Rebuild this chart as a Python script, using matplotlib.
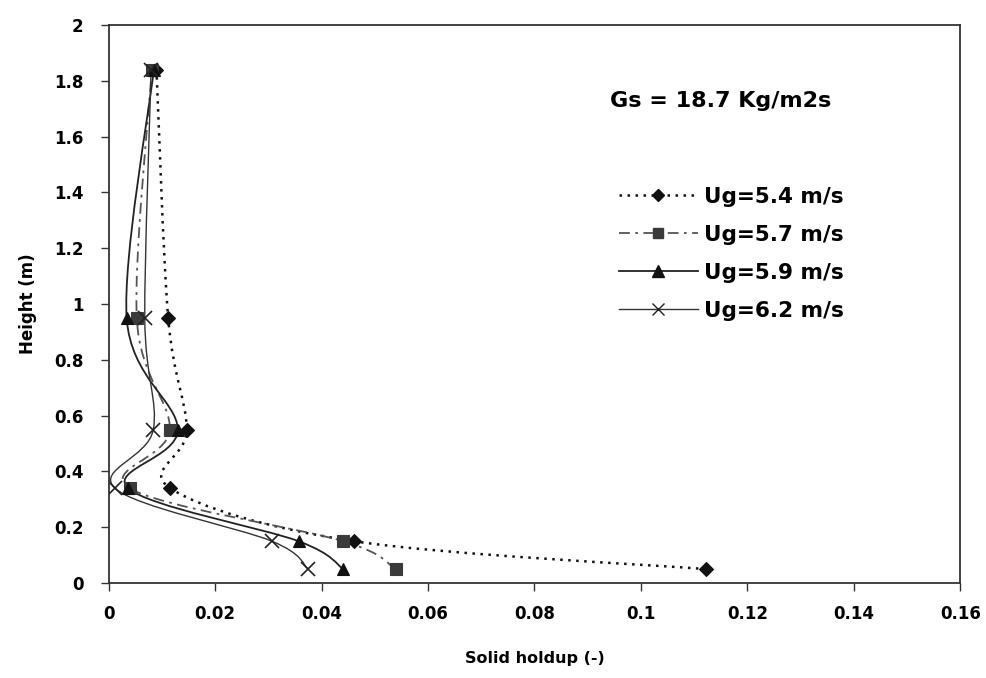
import numpy as np
import matplotlib
matplotlib.use("Agg")
import matplotlib.pyplot as plt
from matplotlib.path import Path
from matplotlib.patches import PathPatch
from matplotlib.lines import Line2D

# measured axial profile of solid holdup
height = [0.05, 0.15, 0.34, 0.55, 0.95, 1.84]
holdup_54 = [0.1123, 0.0461, 0.0116, 0.0147, 0.0112, 0.0090]
holdup_57 = [0.0539, 0.0441, 0.0040, 0.0115, 0.0053, 0.0081]
holdup_59 = [0.0441, 0.0357, 0.0037, 0.0130, 0.0034, 0.0085]
holdup_62 = [0.0375, 0.0307, 0.0012, 0.0084, 0.0068, 0.0080]
labels = ["Ug=5.4 m/s", "Ug=5.7 m/s", "Ug=5.9 m/s", "Ug=6.2 m/s"]

xticks = [0, 0.02, 0.04, 0.06, 0.08, 0.1, 0.12, 0.14, 0.16]
xtick_labels = ["0", "0.02", "0.04", "0.06", "0.08", "0.1", "0.12", "0.14", "0.16"]
yticks = [0, 0.2, 0.4, 0.6, 0.8, 1, 1.2, 1.4, 1.6, 1.8, 2]
ytick_labels = ["0", "0.2", "0.4", "0.6", "0.8", "1", "1.2", "1.4", "1.6", "1.8", "2"]

plt.rcParams["font.family"] = ["DejaVu Sans"]
plt.rcParams["font.weight"] = "bold"


def smooth_path(xs, ys):
    # bezier curve through the points, like a spreadsheet "smoothed line"
    pts = np.column_stack([xs, ys]).astype(float)
    n = len(pts)
    verts = [pts[0]]
    codes = [Path.MOVETO]
    for i in range(n - 1):
        p0 = pts[max(i - 1, 0)]
        p1 = pts[i]
        p2 = pts[i + 1]
        p3 = pts[min(i + 2, n - 1)]
        c1 = p1 + (p2 - p0) / 6.0
        c2 = p2 - (p3 - p1) / 6.0
        verts += [c1, c2, p2]
        codes += [Path.CURVE4] * 3
    return Path(verts, codes)


fig = plt.figure(figsize=(9.87, 6.78), dpi=100)
ax = fig.add_axes([0.110, 0.140, 0.863, 0.823])

series = [
    (holdup_54, (0, (1, 2.2)), 1.8, "#111111", "D", 7.5, "#111111"),
    (holdup_57, (0, (6, 3, 1.5, 3)), 1.3, "#555555", "s", 8.5, "#3a3a3a"),
    (holdup_59, "-", 1.3, "#222222", "^", 9, "#111111"),
    (holdup_62, "-", 1.0, "#333333", "x", 10, "#222222"),
]

handles = []
for (vals, ls, lw, lc, mk, ms, mc), lab in zip(series, labels):
    ax.add_patch(PathPatch(smooth_path(vals, height), fill=False,
                           linestyle=ls, linewidth=lw, edgecolor=lc))
    ax.plot(vals, height, linestyle="none", marker=mk, markersize=ms,
            color=mc, markeredgewidth=1.2 if mk == "x" else 0.8)
    handles.append(Line2D([], [], linestyle=ls, linewidth=lw, color=lc,
                          marker=mk, markersize=ms - 1, markerfacecolor=mc,
                          markeredgecolor=mc))

ax.set_xlim(0, 0.16)
ax.set_ylim(0, 2)
ax.set_xticks(xticks)
ax.set_xticklabels(xtick_labels, fontsize=12, fontweight="bold")
ax.set_yticks(yticks)
ax.set_yticklabels(ytick_labels, fontsize=12, fontweight="bold")
ax.tick_params(direction="out", length=6, width=1, color="#333333")
ax.tick_params(axis="y", pad=12)
ax.tick_params(axis="x", pad=10)
for sp in ax.spines.values():
    sp.set_color("#333333")
    sp.set_linewidth(1.3)

ax.set_xlabel("Solid holdup (-)", fontsize=11.5, fontweight="bold", labelpad=20)
ax.set_ylabel("Height (m)", fontsize=12, fontweight="bold", labelpad=12)

fig.text(610 / 987, 1 - 101 / 678, "Gs = 18.7 Kg/m2s", fontsize=16,
         fontweight="bold", ha="left", va="center")

ax.legend(handles, labels, loc="upper left", frameon=False,
          bbox_to_anchor=(610 / 987, 1 - 178 / 678),
          bbox_transform=fig.transFigure, prop={"size": 15.5, "weight": "bold"},
          handlelength=3.7, handletextpad=0.25, labelspacing=0.84,
          borderaxespad=0)

fig.savefig("out.png", dpi=100)
